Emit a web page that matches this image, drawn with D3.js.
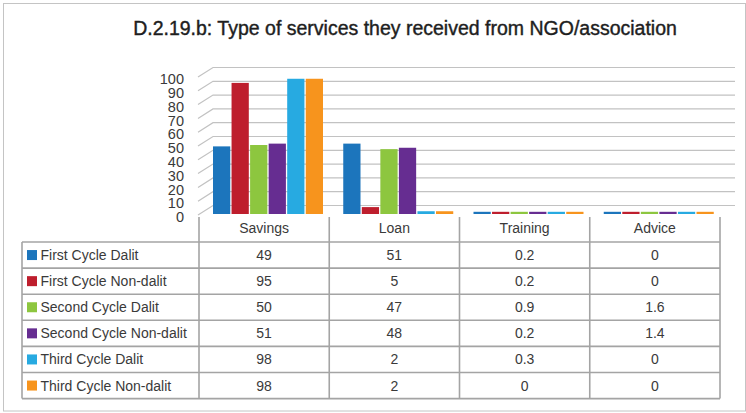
<!DOCTYPE html>
<html>
<head>
<meta charset="utf-8">
<script src="https://cdn.jsdelivr.net/npm/d3@7"></script>
<style>
  html, body { margin: 0; padding: 0; background: #fff; }
  svg { display: block; font-family: "Liberation Sans", Arial, sans-serif; }
</style>
</head>
<body>
<svg id="chart" width="746" height="413"></svg>
<script>
// Services received from NGO/association, by cycle and caste group (%)
const categories = ["Savings", "Loan", "Training", "Advice"];
const seriesNames = [
  "First Cycle Dalit",
  "First Cycle Non-dalit",
  "Second Cycle Dalit",
  "Second Cycle Non-dalit",
  "Third Cycle Dalit",
  "Third Cycle Non-dalit"
];
const firstCycleDalit     = [49, 51, 0.2, 0];
const firstCycleNonDalit  = [95, 5, 0.2, 0];
const secondCycleDalit    = [50, 47, 0.9, 1.6];
const secondCycleNonDalit = [51, 48, 0.2, 1.4];
const thirdCycleDalit     = [98, 2, 0.3, 0];
const thirdCycleNonDalit  = [98, 2, 0, 0];
const yTicks = [0, 10, 20, 30, 40, 50, 60, 70, 80, 90, 100];
const seriesColors = ["#1c75bc", "#be1e2d", "#8dc63f", "#662d91", "#27aae1", "#f7941d"];

const seriesValues = [
  firstCycleDalit, firstCycleNonDalit, secondCycleDalit,
  secondCycleNonDalit, thirdCycleDalit, thirdCycleNonDalit
];
const series = seriesNames.map((name, i) => ({ name, color: seriesColors[i], values: seriesValues[i] }));

const svg = d3.select("#chart");

// outer frame
svg.append("rect")
  .attr("x", 3.5).attr("y", 3.5).attr("width", 742).attr("height", 407.5)
  .attr("fill", "none").attr("stroke", "#c4c4c4").attr("stroke-width", 1);

// title
svg.append("text")
  .attr("x", 405).attr("y", 28)
  .attr("text-anchor", "middle").attr("dominant-baseline", "central")
  .attr("font-size", 19.5).attr("fill", "#1e1e1e")
  .attr("stroke", "#1e1e1e").attr("stroke-width", 0.4)
  .text("D.2.19.b: Type of services they received from NGO/association");

// scales
const tableLeft = 22, tableRight = 720;
const x = d3.scaleBand().domain(categories).range([199, tableRight]).padding(0);
const xInner = d3.scaleBand().domain(seriesNames).range([14, 124]).paddingInner(0.07);
const y = d3.scaleLinear().domain([0, 100]).range([214, 76]);

// back wall depth offset
const depthX = 15, depthY = -9.5;
const wallFrontX = 198, wallRight = 735;

// gridlines: side-wall diagonal + back-wall horizontal
const grid = svg.append("g").attr("fill", "none").attr("stroke", "#c2c2c2").attr("stroke-width", 1.2);
grid.selectAll("path").data(yTicks).join("path")
  .attr("d", v => {
    const yf = y(v) + 1;
    return `M${wallFrontX},${yf}L${wallFrontX + depthX},${yf + depthY}H${wallRight}`;
  });

// y axis labels
const yAxis = d3.axisLeft(y).tickValues(yTicks).tickSize(0).tickPadding(0);
const yAxisG = svg.append("g").attr("transform", "translate(184,3)").call(yAxis);
yAxisG.select(".domain").remove();
yAxisG.selectAll("text")
  .attr("font-size", 14.5).attr("fill", "#3a3a3a")
  .attr("font-family", "'Liberation Sans', Arial, sans-serif");

// bars
const minVisible = 2.2;
const barGroups = svg.append("g").selectAll("g").data(series).join("g")
  .attr("fill", d => d.color);
barGroups.selectAll("rect")
  .data(d => d.values.map((v, i) => ({ name: d.name, cat: categories[i], v })))
  .join("rect")
  .attr("x", d => x(d.cat) + xInner(d.name))
  .attr("width", xInner.bandwidth())
  .attr("y", d => y(0) - Math.max(y(0) - y(d.v), minVisible))
  .attr("height", d => Math.max(y(0) - y(d.v), minVisible));

// data table
const headerTop = 217, rowTop = 242, rowH = 26.1;
const tableBottom = rowTop + rowH * seriesNames.length;
const lineColor = "#a4a4a4";
const table = svg.append("g");

// category header labels
table.selectAll("text.cat").data(categories).join("text")
  .attr("class", "cat")
  .attr("x", d => x(d) + x.bandwidth() / 2)
  .attr("y", 228)
  .attr("text-anchor", "middle").attr("dominant-baseline", "central")
  .attr("font-size", 14).attr("fill", "#3a3a3a")
  .text(d => d);

// horizontal rules
const hLines = d3.range(seriesNames.length + 1).map(i => rowTop + i * rowH);
table.selectAll("line.h").data(hLines).join("line")
  .attr("class", "h")
  .attr("x1", tableLeft).attr("x2", tableRight)
  .attr("y1", d => d).attr("y2", d => d)
  .attr("stroke", lineColor).attr("stroke-width", 1.6);

// vertical rules
table.append("line")
  .attr("x1", tableLeft).attr("x2", tableLeft)
  .attr("y1", rowTop).attr("y2", tableBottom)
  .attr("stroke", lineColor).attr("stroke-width", 1.6);
const vLines = categories.map(c => x(c)).concat([tableRight]);
table.selectAll("line.v").data(vLines).join("line")
  .attr("class", "v")
  .attr("x1", d => d).attr("x2", d => d)
  .attr("y1", headerTop).attr("y2", tableBottom)
  .attr("stroke", lineColor).attr("stroke-width", 1.6);

// rows: legend key + values
const rows = table.selectAll("g.row").data(series).join("g")
  .attr("class", "row")
  .attr("transform", (d, i) => `translate(0,${rowTop + i * rowH + rowH / 2})`);
rows.append("rect")
  .attr("x", 27).attr("y", -5).attr("width", 10).attr("height", 10)
  .attr("fill", d => d.color);
rows.append("text")
  .attr("x", 40.5).attr("y", 0)
  .attr("dominant-baseline", "central")
  .attr("font-size", 14).attr("fill", "#3a3a3a")
  .text(d => d.name);
rows.selectAll("text.val")
  .data(d => d.values.map((v, i) => ({ v, cat: categories[i] })))
  .join("text")
  .attr("class", "val")
  .attr("x", d => x(d.cat) + x.bandwidth() / 2)
  .attr("y", 0)
  .attr("text-anchor", "middle").attr("dominant-baseline", "central")
  .attr("font-size", 14).attr("fill", "#3a3a3a")
  .text(d => d.v);
</script>
</body>
</html>
